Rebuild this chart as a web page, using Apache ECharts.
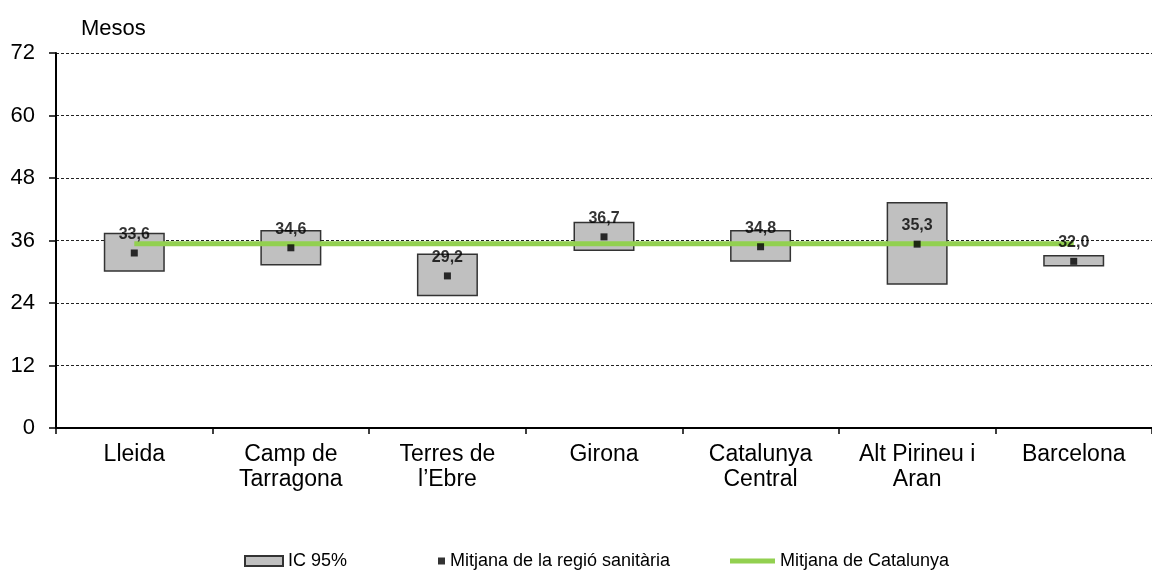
<!DOCTYPE html>
<html>
<head>
<meta charset="utf-8">
<script src="https://cdn.jsdelivr.net/npm/echarts@6/dist/echarts.min.js"></script>
<style>
  html, body { margin: 0; padding: 0; background: #fff; }
  #chart { width: 1152px; height: 572px; }
</style>
</head>
<body>
<div id="chart"></div>
<script>
// Regions (health regions of Catalonia)
const regions = ['Lleida', 'Camp de\nTarragona', 'Terres de\nl\u2019Ebre', 'Girona', 'Catalunya\nCentral', 'Alt Pirineu i\nAran', 'Barcelona'];
// Regional mean (months)
const regionMean = [33.6, 34.6, 29.2, 36.7, 34.8, 35.3, 32.0];
// 95% confidence interval bounds
const ciLower = [30.0, 31.2, 25.3, 34.0, 31.9, 27.5, 31.0];
const ciUpper = [37.5, 38.0, 33.5, 39.6, 38.0, 43.4, 33.2];
// Catalonia overall mean
const catalunyaMean = 35.4;
// Y axis ticks
const yTicks = [0, 12, 24, 36, 48, 60, 72];

const FONT = 'Liberation Sans, Arial, sans-serif';
const chart = echarts.init(document.getElementById('chart'), null, { renderer: 'canvas' });

const legendText = { fontFamily: FONT, fontSize: 18, color: '#000' };

chart.setOption({
  animation: false,
  backgroundColor: '#ffffff',
  textStyle: { fontFamily: FONT, color: '#000' },
  title: {
    text: 'Mesos',
    left: 76, top: 13,
    textStyle: { fontFamily: FONT, fontSize: 22, fontWeight: 'normal', color: '#000' }
  },
  grid: { left: 56, right: -6.5, top: 53, bottom: 144, containLabel: false },
  legend: [
    {
      data: ['IC 95%'], left: 244, top: 552, padding: 0, icon: 'rect',
      itemWidth: 38, itemHeight: 10, textStyle: legendText
    },
    {
      data: ['Mitjana de la regi\u00f3 sanit\u00e0ria'], left: 438, top: 552, padding: 0, icon: 'rect',
      itemWidth: 7, itemHeight: 7, textStyle: legendText
    },
    {
      data: ['Mitjana de Catalunya'], left: 730, top: 552, padding: 0, icon: 'rect',
      itemWidth: 45, itemHeight: 5, textStyle: legendText
    }
  ],
  xAxis: {
    type: 'category',
    data: regions,
    boundaryGap: true,
    axisLine: { lineStyle: { color: '#000', width: 2 } },
    axisTick: { show: true, length: 6, lineStyle: { color: '#000', width: 1.5 } },
    axisLabel: { color: '#000', fontSize: 23, fontFamily: FONT, margin: 14, lineHeight: 25, interval: 0 },
    splitLine: { show: false }
  },
  yAxis: {
    type: 'value',
    min: yTicks[0], max: yTicks[yTicks.length - 1], interval: 12,
    axisLine: { show: true, lineStyle: { color: '#000', width: 2 } },
    axisTick: { show: true, length: 7, lineStyle: { color: '#000', width: 1.5 } },
    axisLabel: { color: '#000', fontSize: 22, fontFamily: FONT, margin: 21 },
    splitLine: { show: true, lineStyle: { color: '#222', width: 1, type: [3, 2] } }
  },
  series: [
    {
      name: 'ciBase',
      type: 'bar',
      stack: 'ci',
      barWidth: 61,
      silent: true,
      itemStyle: { color: 'rgba(0,0,0,0)' },
      data: ciLower,
      z: 2
    },
    {
      name: 'IC 95%',
      type: 'bar',
      stack: 'ci',
      barWidth: 61,
      itemStyle: { color: '#c0c0c0', borderColor: '#333', borderWidth: 1.5 },
      data: ciUpper.map((u, i) => +(u - ciLower[i]).toFixed(1)),
      z: 2
    },
    {
      name: 'Mitjana de Catalunya',
      type: 'line',
      data: regions.map(() => catalunyaMean),
      symbol: 'none',
      lineStyle: { color: '#92d050', width: 5 },
      itemStyle: { color: '#92d050' },
      z: 3
    },
    {
      name: 'Mitjana de la regi\u00f3 sanit\u00e0ria',
      type: 'scatter',
      data: regionMean,
      symbol: 'rect',
      symbolSize: 7,
      itemStyle: { color: '#000' },
      label: {
        show: true,
        position: 'top',
        distance: 7,
        fontFamily: FONT,
        fontSize: 16,
        fontWeight: 'bold',
        color: '#000',
        formatter: p => p.value.toFixed(1).replace('.', ',')
      },
      z: 4
    }
  ]
});
</script>
</body>
</html>
